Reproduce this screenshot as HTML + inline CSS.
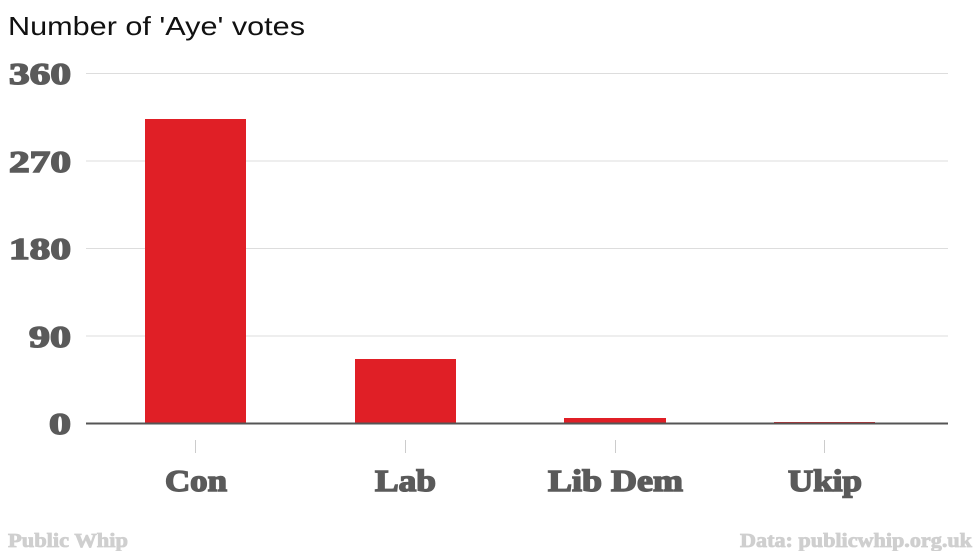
<!DOCTYPE html>
<html><head><style>
html,body{margin:0;padding:0;background:#fff;}
svg{display:block;}
.t{font-family:"Liberation Serif",serif;font-weight:bold;fill:#5a5a5a;stroke:#5a5a5a;stroke-width:1.5;font-size:31px;}
.c{font-family:"Liberation Serif",serif;font-weight:bold;fill:#5a5a5a;stroke:#5a5a5a;stroke-width:1.5;font-size:31px;}
.f{font-family:"Liberation Serif",serif;font-weight:bold;fill:#cfcfcf;stroke:#cfcfcf;stroke-width:0.8;font-size:20px;}
</style></head><body>
<svg width="980" height="551" viewBox="0 0 980 551">
<text x="8" y="35" textLength="297" lengthAdjust="spacingAndGlyphs" style="font-family:'Liberation Sans',sans-serif;font-size:26px;fill:#111">Number of 'Aye' votes</text>
<g stroke="#ddd" stroke-width="1">
<line x1="86" x2="948" y1="73.5" y2="73.5"/>
<line x1="86" x2="948" y1="161" y2="161"/>
<line x1="86" x2="948" y1="248.5" y2="248.5"/>
<line x1="86" x2="948" y1="336" y2="336"/>
</g>
<text class="t" x="9" y="84" textLength="62" lengthAdjust="spacingAndGlyphs">360</text>
<text class="t" x="9" y="172" textLength="62" lengthAdjust="spacingAndGlyphs">270</text>
<text class="t" x="9" y="259" textLength="62" lengthAdjust="spacingAndGlyphs">180</text>
<text class="t" x="29" y="347" textLength="42" lengthAdjust="spacingAndGlyphs">90</text>
<text class="t" x="49" y="434" textLength="22" lengthAdjust="spacingAndGlyphs">0</text>
<g fill="#e01f26">
<rect x="145" y="119" width="101" height="304"/>
<rect x="355" y="359" width="101" height="64"/>
<rect x="564" y="418" width="102" height="5"/>
<rect x="774" y="422" width="101" height="1"/>
</g>
<line x1="86" x2="948" y1="423.5" y2="423.5" stroke="#555" stroke-width="2"/>
<g stroke="#ccc" stroke-width="1">
<line x1="195.5" x2="195.5" y1="440" y2="453"/>
<line x1="405.5" x2="405.5" y1="440" y2="453"/>
<line x1="615.5" x2="615.5" y1="440" y2="453"/>
<line x1="824.5" x2="824.5" y1="440" y2="453"/>
</g>
<text class="c" x="165" y="491" textLength="62" lengthAdjust="spacingAndGlyphs">Con</text>
<text class="c" x="375" y="491" textLength="61" lengthAdjust="spacingAndGlyphs">Lab</text>
<text class="c" x="548" y="491" textLength="135" lengthAdjust="spacingAndGlyphs">Lib Dem</text>
<text class="c" x="788" y="491" textLength="74" lengthAdjust="spacingAndGlyphs">Ukip</text>
<text class="f" x="8" y="547" textLength="120" lengthAdjust="spacingAndGlyphs">Public Whip</text>
<text class="f" x="740" y="547" textLength="232" lengthAdjust="spacingAndGlyphs">Data: publicwhip.org.uk</text>
</svg>
</body></html>
